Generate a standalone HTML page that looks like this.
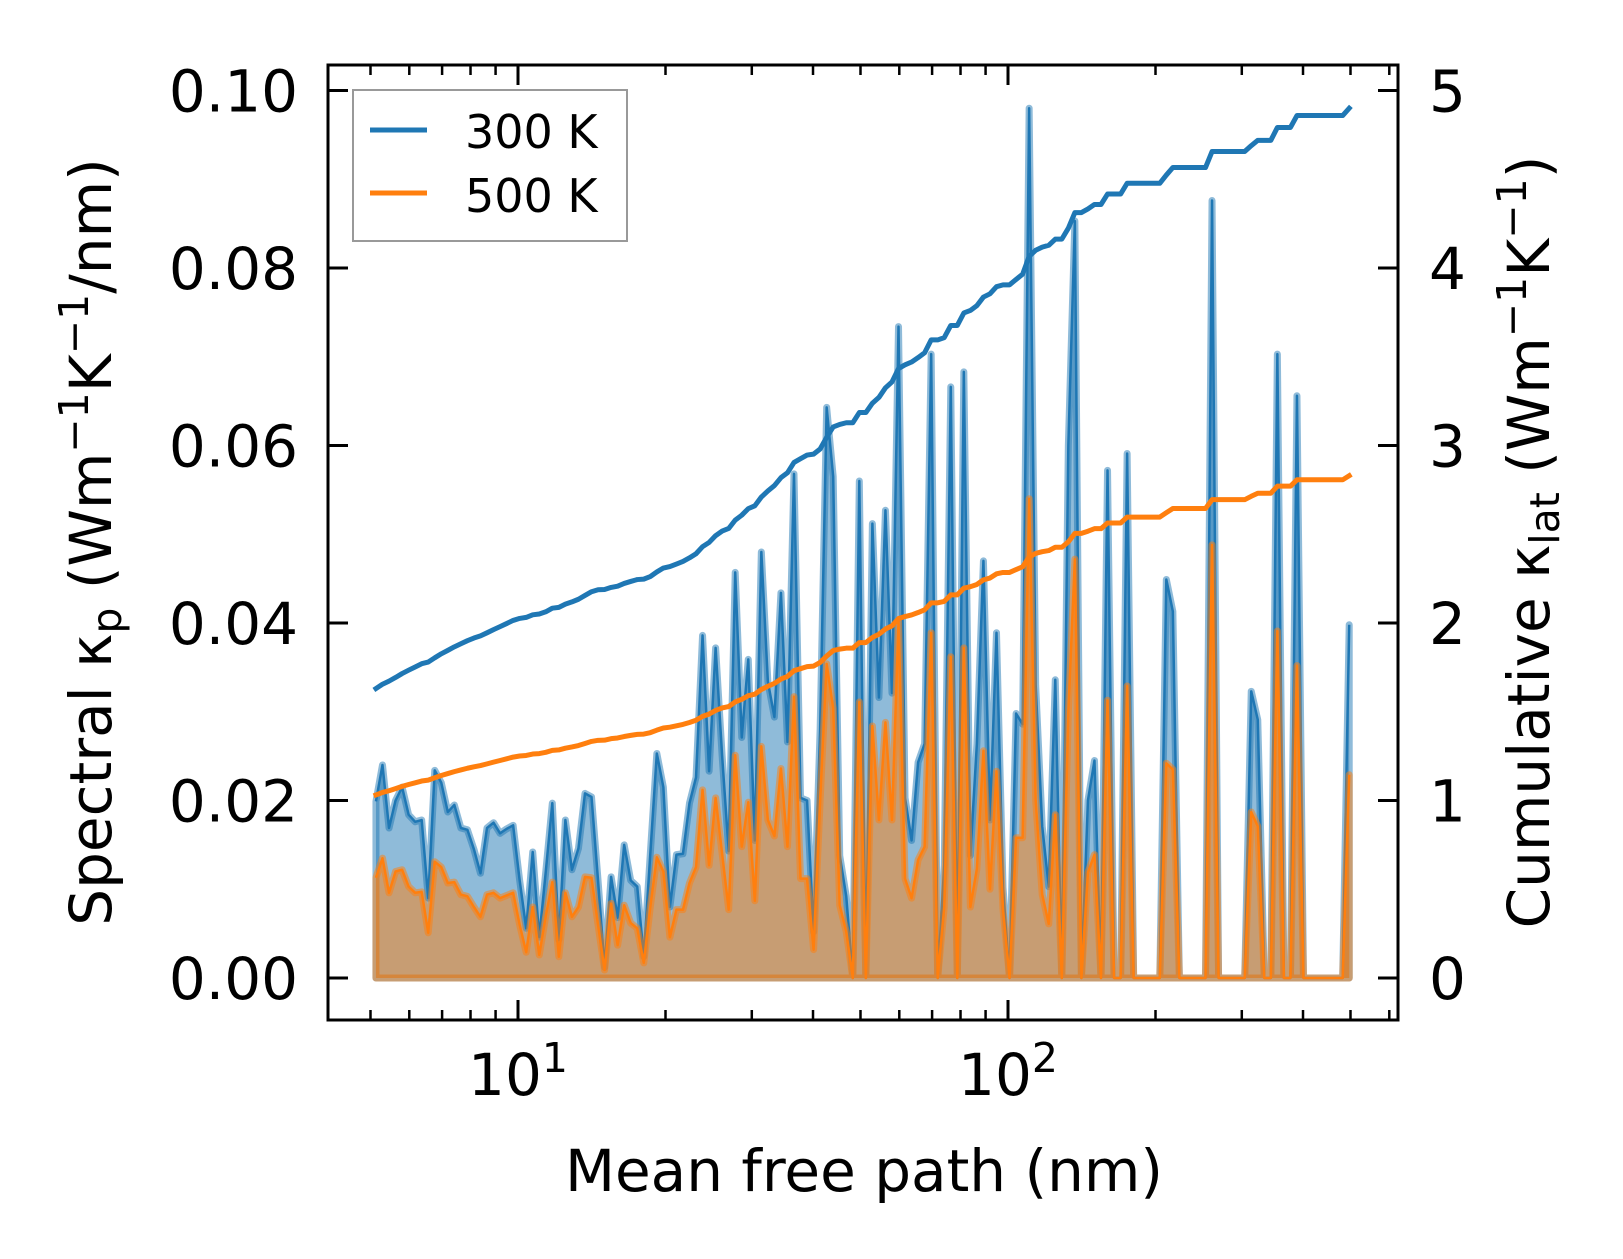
<!DOCTYPE html>
<html><head><meta charset="utf-8">
<style>
html,body{margin:0;padding:0;background:#fff;}
svg{display:block;font-family:"DejaVu Sans","Liberation Sans",sans-serif;}
</style></head>
<body>
<svg id="chart" width="1623" height="1259" viewBox="0 0 1623 1259" xmlns="http://www.w3.org/2000/svg">
<rect width="1623" height="1259" fill="#fff"/>
<g id="plot"></g>
<g id="axes"></g>
</svg>
<script>
// ---- data ----
const mfpStart = 5.13, mfpEnd = 497; // mean free path range (nm), log-spaced bins
const spectral300 = [19.9,24,16.9,20,21.5,18.4,17.6,17.8,9,23.4,22,18.7,19.5,16.9,16.7,14.5,11.8,16.9,17.5,16.3,16.8,17.2,11,5.6,14.2,4.6,12,19.7,4.3,17.8,12.2,14.6,20.8,20.4,11,1.2,11.4,6.8,15,11,10.3,2.4,14,25.3,21.5,8,13.9,14,19.7,22.6,
38.6,23.3,37.2,25,14.3,45.7,27.1,35.9,15.5,48,33.4,29.4,43.4,26.6,56.8,20.3,20,5.2,28,64.3,56.5,13.8,9.2,0,56,0,51.2,31.6,52.7,32.1,73.4,20.3,15.5,24.3,26.4,70.3,0,12.7,66.6,0,68.3,13.8,26.4,47,17.8,38.9,10.2,0,29.8,28.6,
98,33,17.1,10.3,33.6,0,60,85.3,0,20,24.5,0,57.2,0,0,59.1,0,0,0,0,0,44.9,41.3,0,0,0,0,0,87.6,0,0,0,0,0,32.3,29.1,0,0,70.3,0,0,65.6,0,0,0,0,0,0,0,39.8];
const spectral500 = [11.3,13.5,9.6,12,12.2,10.3,9.6,9.7,5.1,13.1,12.5,10.7,10.8,9.4,9.2,8,6.9,9.4,9.6,9,9.3,9.6,6,2.9,8,2.6,7,10.8,2.4,9.6,6.9,8,11.4,11.3,6,0.9,8.4,3.7,8.2,6.2,5.6,1.7,8,13.6,12,4.6,7.7,7.7,10.7,12.5,
21.2,12.7,20.3,14,7.7,25.1,14.8,19.8,8.7,26.1,17.8,16,23.6,14.8,31.7,11.2,11.2,3.2,20,35.4,30.4,8.2,5.2,0,31.1,0,28.4,17.8,28.8,17.8,40.2,11.2,9,13.3,14.8,38.9,0,8,36.2,0,37.2,8,12.3,25.6,10,23.3,7.7,0,15.8,15.8,
54,20,9.4,6.1,18.4,0,30,47.2,0,11.9,13.9,0,31.3,0,0,32.9,0,0,0,0,0,24.2,23.5,0,0,0,0,0,48.8,0,0,0,0,0,18.7,17.1,0,0,39.1,0,0,35.2,0,0,0,0,0,0,0,22.9];
const cumStart300 = 1.61, cumEnd300 = 4.9;
const cumStart500 = 1.02, cumEnd500 = 2.83;
const yLeftTicks = ["0.00","0.02","0.04","0.06","0.08","0.10"];
const yLeftTickVals = [0,0.02,0.04,0.06,0.08,0.10];
const yRightTicks = ["0","1","2","3","4","5"];
const yRightTickVals = [0,1,2,3,4,5];
const xMajorVals = [10,100];
const xMajorExp = ["1","2"];
const xMinorVals = [5,6,7,8,9,20,30,40,50,60,70,80,90,200,300,400,500,600];

// ---- axes geometry ----
const L=328, R=1398, T=65, B=1020;
const X10=518, DEC=490, Y0=978, PXL=8875, PXR=177.5;
const xs = v => X10 + (Math.log10(v)-1)*DEC;
const yl = v => Y0 - v*PXL;
const yr = v => Y0 - v*PXR;
const NS="http://www.w3.org/2000/svg";
function mk(tag, attrs, parent){const e=document.createElementNS(NS,tag);for(const k in attrs)e.setAttribute(k,attrs[k]);parent.appendChild(e);return e;}

const plot=document.getElementById('plot'), axes=document.getElementById('axes');
const n=spectral300.length;
const mfp=[];
for(let i=0;i<n;i++) mfp.push(Math.pow(10, Math.log10(mfpStart)+(Math.log10(mfpEnd)-Math.log10(mfpStart))*i/(n-1)));

function cumulative(spec,s,e){const out=[];let c=0;const tot=spec.reduce((a,b)=>a+b,0);for(let i=0;i<spec.length;i++){c+=spec[i];out.push(s+(e-s)*c/tot);}return out;}
const cum300=cumulative(spectral300,cumStart300,cumEnd300);
const cum500=cumulative(spectral500,cumStart500,cumEnd500);

function specPts(arr){return arr.map((v,i)=>xs(mfp[i]).toFixed(2)+','+yl(v/1000).toFixed(2));}
function areaPath(arr){const p=specPts(arr);return 'M'+xs(mfp[0]).toFixed(2)+','+Y0+' L'+p.join(' L')+' L'+xs(mfp[n-1]).toFixed(2)+','+Y0+' Z';}

function drawSpec(arr,color,name){
  const a=mk('path',{d:areaPath(arr),fill:color,'fill-opacity':0.5,stroke:color,'stroke-opacity':0.5,'stroke-width':7,'stroke-linejoin':'round'},plot);
  
  
  const l=mk('polyline',{points:specPts(arr).join(' '),fill:'none',stroke:color,'stroke-width':2.5,'stroke-linejoin':'round'},plot);
  
  
}
drawSpec(spectral300,'#1f77b4','spectral-300k');
drawSpec(spectral500,'#ff7f0e','spectral-500k');
function drawCum(arr,color,name){
  const pts=arr.map((v,i)=>xs(mfp[i]).toFixed(2)+','+yr(v).toFixed(2)).join(' ');
  const l=mk('polyline',{points:pts,fill:'none',stroke:color,'stroke-width':5,'stroke-linejoin':'round','stroke-linecap':'square'},plot);
  
  
}
drawCum(cum300,'#1f77b4','cumulative-300k');
drawCum(cum500,'#ff7f0e','cumulative-500k');

// frame
const fr=mk('rect',{x:L,y:T,width:R-L,height:B-T,fill:'none',stroke:'#000','stroke-width':3},axes);



// x ticks
xMajorVals.forEach((v,i)=>{
  const x=xs(v);
  mk('line',{x1:x,x2:x,y1:B,y2:B-20,stroke:'#000','stroke-width':3},axes);
  mk('line',{x1:x,x2:x,y1:T,y2:T+20,stroke:'#000','stroke-width':3},axes);
  const t=mk('text',{x:x,y:1095,'font-size':58,'text-anchor':'middle',fill:'#000'},axes);
  
  
  t.appendChild(document.createTextNode('10'));
  const s=mk('tspan',{dy:-23,'font-size':41},t); s.textContent=xMajorExp[i];
});
xMinorVals.forEach(v=>{
  const x=xs(v); if(x<L||x>R) return;
  mk('line',{x1:x,x2:x,y1:B,y2:B-10,stroke:'#000','stroke-width':2.5},axes);
  mk('line',{x1:x,x2:x,y1:T,y2:T+10,stroke:'#000','stroke-width':2.5},axes);
});
// left y ticks
yLeftTickVals.forEach((v,i)=>{
  const y=yl(v);
  mk('line',{x1:L,x2:L+20,y1:y,y2:y,stroke:'#000','stroke-width':3},axes);
  const t=mk('text',{x:298,y:y+21,'font-size':58,'text-anchor':'end',fill:'#000'},axes);
  
  
  t.textContent=yLeftTicks[i];
});
// right y ticks
yRightTickVals.forEach((v,i)=>{
  const y=yr(v);
  mk('line',{x1:R,x2:R-20,y1:y,y2:y,stroke:'#000','stroke-width':3},axes);
  const t=mk('text',{x:1429,y:y+21,'font-size':58,'text-anchor':'start',fill:'#000'},axes);
  
  
  t.textContent=yRightTicks[i];
});
</script>
<svg style="position:absolute;left:0;top:0" width="1623" height="1259" viewBox="0 0 1623 1259" xmlns="http://www.w3.org/2000/svg" font-family="DejaVu Sans, Liberation Sans, sans-serif">
  <text x="864" y="1191" font-size="58" text-anchor="middle">Mean free path (nm)</text>
  <text transform="translate(111,542) rotate(-90)" font-size="58" text-anchor="middle">Spectral κ<tspan font-size="41" dy="10">p</tspan><tspan dy="-10"> (Wm</tspan><tspan font-size="41" dy="-23">−1</tspan><tspan dy="23">K</tspan><tspan font-size="41" dy="-23">−1</tspan><tspan dy="23">/nm)</tspan></text>
  <text transform="translate(1549,542) rotate(-90)" font-size="58" text-anchor="middle">Cumulative κ<tspan font-size="41" dy="10">lat</tspan><tspan dy="-10"> (Wm</tspan><tspan font-size="41" dy="-23">−1</tspan><tspan dy="23">K</tspan><tspan font-size="41" dy="-23">−1</tspan><tspan dy="23">)</tspan></text>
  <g>
    <rect x="353" y="90" width="274" height="151" fill="#fff" fill-opacity="0.8" stroke="#999" stroke-width="2"/>
    <line x1="370" x2="427" y1="130" y2="130" stroke="#1f77b4" stroke-width="5"/>
    <text x="465" y="148" font-size="46">300 K</text>
    <line x1="370" x2="427" y1="193" y2="193" stroke="#ff7f0e" stroke-width="5"/>
    <text x="465" y="212" font-size="46">500 K</text>
  </g>
</svg>
</body></html>
